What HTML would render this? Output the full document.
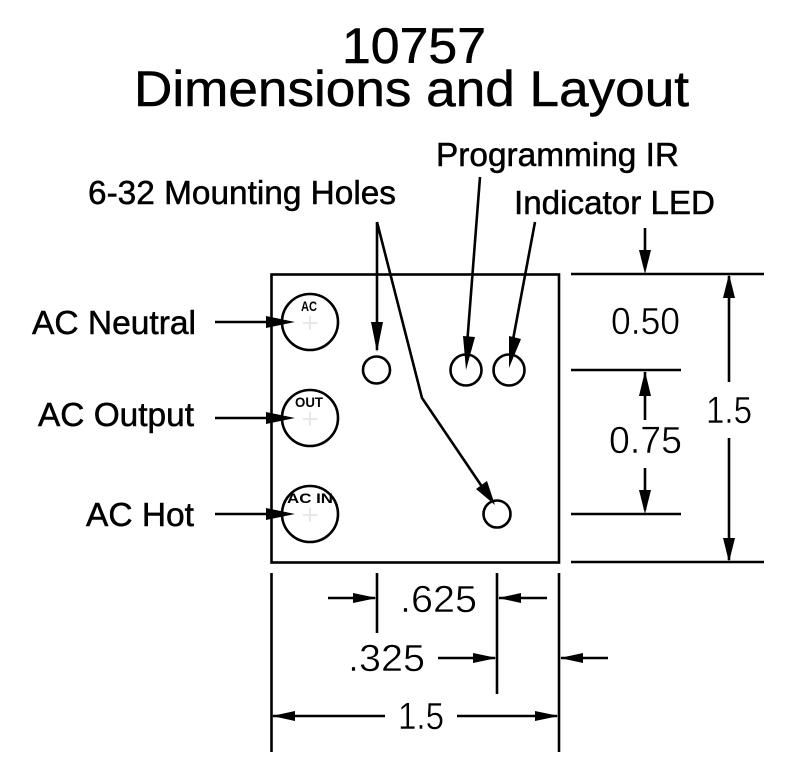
<!DOCTYPE html>
<html><head><meta charset="utf-8"><style>
html,body{margin:0;padding:0;background:#fff}
svg{display:block}
.t{font-family:"Liberation Sans",sans-serif;fill:#000;stroke:#000;stroke-width:.5}
.d{font-family:"Liberation Sans",sans-serif;fill:#000;stroke:#fff;stroke-width:.5;font-size:38px}
.s{font-family:"Liberation Sans",sans-serif;font-weight:bold;fill:#000;font-size:14px}
</style></head><body>
<svg width="800" height="779" viewBox="0 0 800 779" xmlns="http://www.w3.org/2000/svg">
<text class="t" x="342" y="63" font-size="50" textLength="144" lengthAdjust="spacingAndGlyphs">10757</text>
<text class="t" x="134" y="106" font-size="50" textLength="555" lengthAdjust="spacingAndGlyphs">Dimensions and Layout</text>
<text class="t" x="436" y="166" font-size="33" textLength="243" lengthAdjust="spacingAndGlyphs">Programming IR</text>
<text class="t" x="514" y="214" font-size="33" textLength="201" lengthAdjust="spacingAndGlyphs">Indicator LED</text>
<text class="t" x="88" y="204" font-size="33" textLength="308" lengthAdjust="spacingAndGlyphs">6-32 Mounting Holes</text>
<text class="t" x="32" y="334" font-size="33" textLength="164" lengthAdjust="spacingAndGlyphs">AC Neutral</text>
<text class="t" x="38" y="426" font-size="33" textLength="156" lengthAdjust="spacingAndGlyphs">AC Output</text>
<text class="t" x="86" y="526" font-size="33" textLength="108" lengthAdjust="spacingAndGlyphs">AC Hot</text>

<g fill="none" stroke="#000" stroke-width="2.6">
<rect x="271.5" y="274.5" width="287.5" height="288"/>
<circle cx="310" cy="322" r="28"/><circle cx="310" cy="418" r="28"/><circle cx="310" cy="514" r="28"/>
<circle cx="376.500" cy="370" r="13.500"/><circle cx="466" cy="370" r="15.500"/><circle cx="509" cy="370" r="15.500"/><circle cx="497" cy="514" r="13.500"/>
<path d="M377 222V350M377 222L422 398L489 497M480 177L467 345M535 222L512 345"/>
<path d="M215 322H285M215 418H285M215 514H285"/>
<path d="M571 274H764M571 370H681M571 514H681M571 562H764"/>
<path d="M645 228V256M645 372V420M645 468V510M729 276V382M729 438V560"/>
<path d="M271.500 573V752M559 573V752M377 573V633M497 573V694"/>
<path d="M328 598H375M499 598H547M438 658H495M561 658H608M273 716H385M457 716H557"/>
</g>

<g fill="#000">
<path d="M266 316L295 322L266 328ZM266 412L295 418L266 424ZM266 508L295 514L266 520Z"/>
<path d="M371 322H383L377 352ZM463 336L475 337L466 370ZM509 336L521 339L509 368ZM476 489L487 481L495 505Z"/>
<path d="M639 250H651L645 274ZM639 396H651L645 371ZM639 490H651L645 514ZM723 298H735L729 274ZM723 538H735L729 562Z"/>
<path d="M353 593V603L377 598ZM521 593V603L498 598ZM473 653V663L497 658ZM583 653V663L560 658ZM295 711V721L272 716ZM535 711V721L559 716Z"/>
</g>

<g fill="none" stroke="#e8e8e8" stroke-width="2">
<path d="M303 323H317M310 316V330M303 419H317M310 412V426M303 515H317M310 508V522"/>
</g>

<text class="s" x="301" y="311" textLength="16" lengthAdjust="spacingAndGlyphs">AC</text>
<text class="s" x="295" y="407" textLength="28" lengthAdjust="spacingAndGlyphs">OUT</text>
<text class="s" x="287" y="503" textLength="46" lengthAdjust="spacingAndGlyphs">AC IN</text>

<text class="d" x="611" y="334" textLength="69" lengthAdjust="spacingAndGlyphs">0.50</text>
<text class="d" x="609" y="453" textLength="73" lengthAdjust="spacingAndGlyphs">0.75</text>
<text class="d" x="706" y="423" textLength="46" lengthAdjust="spacingAndGlyphs">1.5</text>
<text class="d" x="400" y="612" textLength="77" lengthAdjust="spacingAndGlyphs">.625</text>
<text class="d" x="348" y="671" textLength="77" lengthAdjust="spacingAndGlyphs">.325</text>
<text class="d" x="398" y="729" textLength="46" lengthAdjust="spacingAndGlyphs">1.5</text>
</svg>
</body></html>
